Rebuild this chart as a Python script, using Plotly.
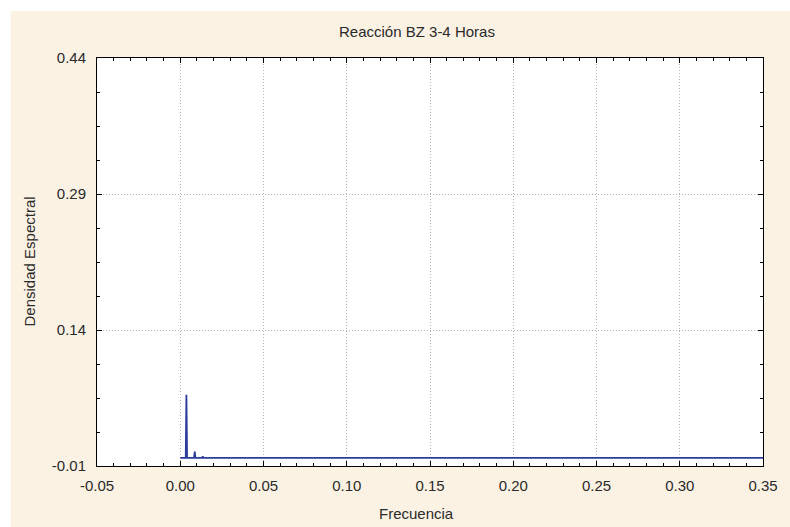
import plotly.graph_objects as go

# Data
freq = [0.0, 0.0033, 0.0037, 0.0041, 0.0083, 0.0087, 0.0091, 0.0131, 0.0135, 0.0139, 0.5]
density = [-0.001, -0.001, 0.0686, -0.001, -0.001, 0.006, -0.001, -0.001, 0.0005, -0.001, -0.001]

x_ticks = [-0.05, 0.00, 0.05, 0.10, 0.15, 0.20, 0.25, 0.30, 0.35]
x_tick_labels = ["-0.05", "0.00", "0.05", "0.10", "0.15", "0.20", "0.25", "0.30", "0.35"]
y_ticks = [-0.01, 0.14, 0.29, 0.44]
y_tick_labels = ["-0.01", "0.14", "0.29", "0.44"]

title_text = "Reacción BZ 3-4 Horas"
x_title = "Frecuencia"
y_title = "Densidad Espectral"

W, H = 790, 527
ML, MR, MT, MB = 97, 22, 58, 61
PW, PH = W - ML - MR, H - MT - MB

def px_x(p):
    return (p - ML) / PW

def px_y(p):
    return (H - MB - p) / PH

cream = "#FCF2E4"
txt = "#2A2A2A"
font = "Liberation Sans, Arial, sans-serif"

fig = go.Figure()
fig.add_trace(go.Scatter(
    x=freq, y=density, mode="lines",
    line=dict(color="#2A3C9C", width=1.8),
    hoverinfo="x+y", showlegend=False,
))

axis_common = dict(
    showline=True, linecolor="black", linewidth=1, mirror="ticks",
    ticks="inside", ticklen=5, tickcolor="black", tickwidth=1,
    showgrid=True, gridcolor="#B5B5B5", griddash="1px,2px", gridwidth=1,
    zeroline=False,
    tickfont=dict(family=font, size=15, color=txt),
)

fig.update_xaxes(
    range=[-0.05, 0.35], tickmode="array", tickvals=x_ticks, ticktext=x_tick_labels,
    minor=dict(ticks="inside", ticklen=3, tickcolor="black", dtick=0.01, showgrid=False),
    ticklabelstandoff=6,
    **axis_common,
)
fig.update_yaxes(
    range=[-0.01, 0.44], tickmode="array", tickvals=y_ticks, ticktext=y_tick_labels,
    minor=dict(ticks="inside", ticklen=3, tickcolor="black", tick0=-0.01, dtick=0.0375, showgrid=False),
    ticklabelstandoff=7,
    **axis_common,
)

fig.update_layout(
    width=W, height=H,
    margin=dict(l=ML, r=MR, t=MT, b=MB),
    paper_bgcolor=cream, plot_bgcolor="white",
    annotations=[
        dict(text=title_text, xref="paper", yref="paper", x=px_x(419), y=px_y(31),
             xanchor="center", yanchor="middle", showarrow=False,
             font=dict(family=font, size=15, color=txt)),
        dict(text=x_title, xref="paper", yref="paper", x=px_x(419), y=px_y(513),
             xanchor="center", yanchor="middle", showarrow=False,
             font=dict(family=font, size=15, color=txt)),
        dict(text=y_title, xref="paper", yref="paper", x=px_x(28), y=px_y(262),
             xanchor="center", yanchor="middle", showarrow=False, textangle=-90,
             font=dict(family=font, size=15, color=txt)),
    ],
    shapes=[
        dict(type="rect", xref="paper", yref="paper", x0=px_x(-20), x1=px_x(820),
             y0=px_y(11), y1=px_y(-20), fillcolor="white", line=dict(width=0), layer="above"),
        dict(type="rect", xref="paper", yref="paper", x0=px_x(-20), x1=px_x(10),
             y0=px_y(560), y1=px_y(-20), fillcolor="white", line=dict(width=0), layer="above"),
    ],
)

fig.write_html("out.html")
